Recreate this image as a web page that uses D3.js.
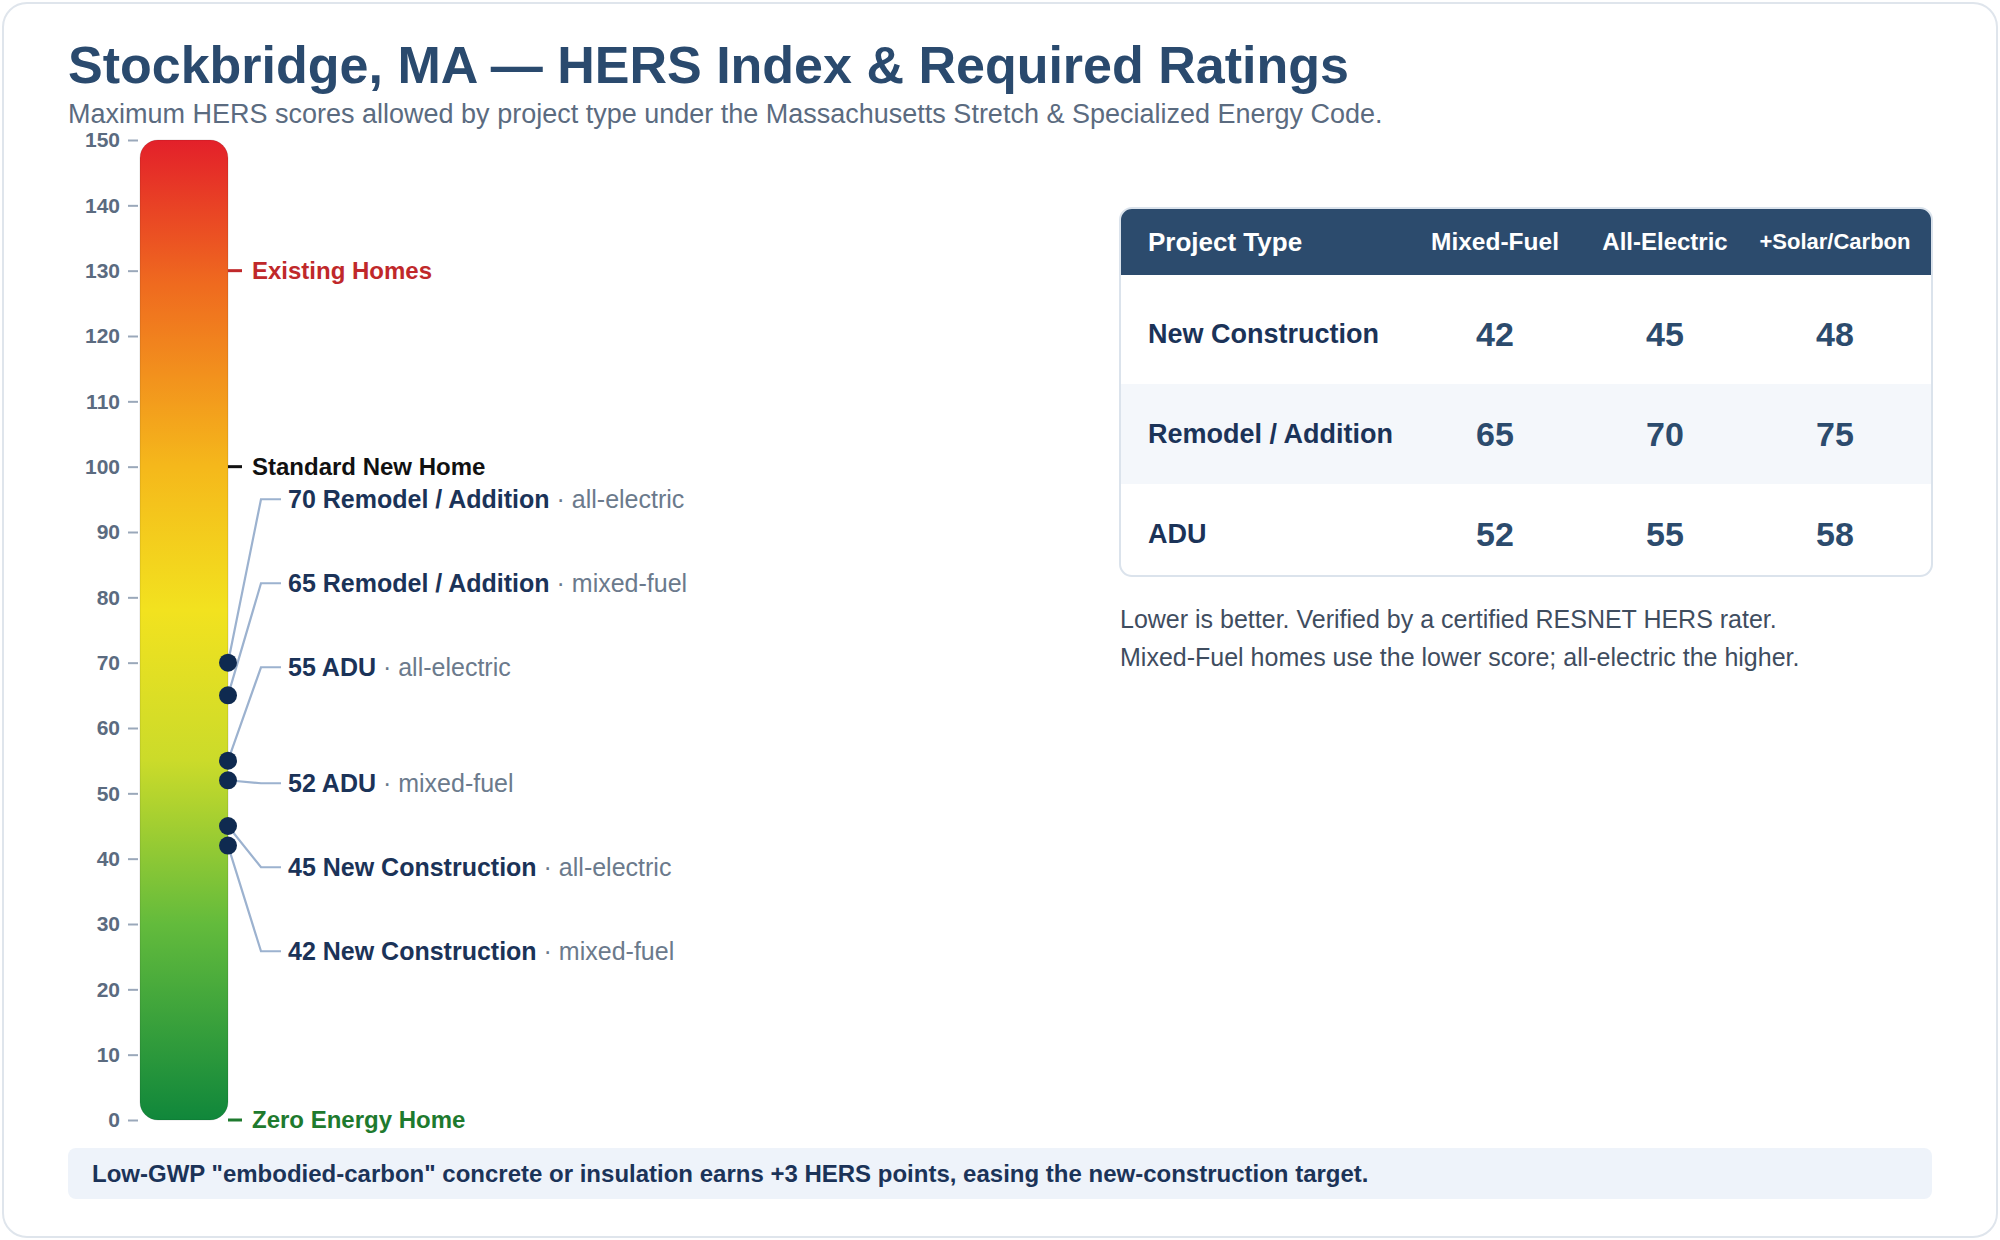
<!DOCTYPE html>
<html>
<head>
<meta charset="utf-8">
<script src="https://cdn.jsdelivr.net/npm/d3@7"></script>
<style>
  body { margin: 0; background: #fff; }
  svg { display: block; font-family: "Liberation Sans", Arial, Helvetica, sans-serif; }
</style>
</head>
<body>
<div class="chart"></div>
<script>
// ---- data ----
const projectTypes = ["New Construction", "Remodel / Addition", "ADU"];
const fuelColumns = ["Mixed-Fuel", "All-Electric", "+Solar/Carbon"];
const mixedFuel   = [42, 65, 52];
const allElectric = [45, 70, 55];
const solarCarbon = [48, 75, 58];

const benchmarkLabels = ["Existing Homes", "Standard New Home", "Zero Energy Home"];
const benchmarkValues = [130, 100, 0];

const axisTicks = [0, 10, 20, 30, 40, 50, 60, 70, 80, 90, 100, 110, 120, 130, 140, 150];

const notes = [
  "Lower is better. Verified by a certified RESNET HERS rater.",
  "Mixed-Fuel homes use the lower score; all-electric the higher."
];
const bannerText = 'Low-GWP "embodied-carbon" concrete or insulation earns +3 HERS points, easing the new-construction target.';

// ---- styles ----
const navy = "#1b3358", slate = "#2c4b6d", gray = "#5b6b80";
const benchmarkColors = ["#c0282a", "#111111", "#1e7a2e"];
const headerSizes = [24.5, 24, 22];

const W = 2000, H = 1240;

const svg = d3.select(".chart").append("svg")
    .attr("width", W)
    .attr("height", H)

// card
svg.append("rect")
    .attr("x", 3).attr("y", 3)
    .attr("width", W - 6).attr("height", H - 6)
    .attr("rx", 24)
    .attr("fill", "#fff")
    .attr("stroke", "#dfe5ec")
    .attr("stroke-width", 2)

svg.append("text")
    .attr("x", 68).attr("y", 83)
    .attr("font-size", 52).attr("font-weight", 700)
    .attr("fill", "#2a4a6e")
    .text("Stockbridge, MA \u2014 HERS Index & Required Ratings")

svg.append("text")
    .attr("x", 68).attr("y", 123)
    .attr("font-size", 27)
    .attr("fill", gray)
    .text("Maximum HERS scores allowed by project type under the Massachusetts Stretch & Specialized Energy Code.")

// ---- thermometer ----
const yScale = d3.scaleLinear().domain([0, 150]).range([1120, 140]);
const barX = 140, barW = 88;

const defs = svg.append("defs");
const grad = defs.append("linearGradient")
    .attr("id", "hers")
    .attr("gradientUnits", "userSpaceOnUse")
    .attr("x1", 0).attr("x2", 0)
    .attr("y1", yScale(150)).attr("y2", yScale(0));
const stops = [[150, "#e3202a"], [128, "#ef6a1f"], [100, "#f5b81b"], [78, "#f2e21f"],
               [55, "#cbdb2a"], [30, "#63bb3c"], [0, "#10873b"]];
grad.selectAll("stop").data(stops).enter().append("stop")
    .attr("offset", d => (yScale(d[0]) - yScale(150)) / (yScale(0) - yScale(150)))
    .attr("stop-color", d => d[1]);

svg.append("rect")
    .attr("x", barX).attr("y", yScale(150))
    .attr("width", barW).attr("height", yScale(0) - yScale(150))
    .attr("rx", 18)
    .attr("fill", "url(#hers)")
    .attr("stroke", "rgba(0,0,0,0.12)")
    .attr("stroke-width", 1)

const yAxis = d3.axisLeft(yScale)
    .tickValues(axisTicks)
    .tickSize(10)
    .tickPadding(8);

svg.append("g")
    .attr("class", "axis y-axis")
    .attr("transform", "translate(138,0)")
    .call(yAxis)
    .call(g => g.select(".domain").remove())
    .call(g => g.selectAll(".tick line").attr("stroke", "#9aa8ba").attr("stroke-width", 2))
    .call(g => g.selectAll(".tick text")
        .attr("fill", gray)
        .attr("font-size", 21)
        .attr("font-weight", 700)
        .attr("font-family", "Liberation Sans, Arial, sans-serif"))

// benchmark markers
const bench = svg.append("g").selectAll("g")
    .data(benchmarkLabels.map((l, i) => ({label: l, value: benchmarkValues[i], color: benchmarkColors[i]})))
    .enter().append("g");
bench.append("line")
    .attr("x1", barX + barW).attr("x2", barX + barW + 14)
    .attr("y1", d => yScale(d.value)).attr("y2", d => yScale(d.value))
    .attr("stroke", d => d.color)
    .attr("stroke-width", 3)
bench.append("text")
    .attr("x", barX + barW + 24)
    .attr("y", d => yScale(d.value))
    .attr("dy", "0.35em")
    .attr("font-size", 24).attr("font-weight", 700)
    .attr("fill", d => d.color)
    .text(d => d.label)

// requirement dots (mixed-fuel and all-electric per project type)
let points = [];
projectTypes.forEach((p, i) => {
    points.push({type: p, value: mixedFuel[i], fuel: "mixed-fuel"});
    points.push({type: p, value: allElectric[i], fuel: "all-electric"});
});
points.sort((a, b) => b.value - a.value);

// label layout: lower half stacks down from its first dot, upper half stacks up above it
const gap = 84, groupGap = 116;
const half = Math.ceil(points.length / 2);
const anchor = yScale(points[half].value) + 3;
points.forEach((d, i) => {
    d.y = yScale(d.value);
    d.ly = i >= half ? anchor + (i - half) * gap : anchor - groupGap - (half - 1 - i) * gap;
});

const dotX = barX + barW;
svg.append("g").selectAll("path")
    .data(points).enter().append("path")
    .attr("d", d => `M${dotX},${d.y}L${dotX + 33},${d.ly}L${dotX + 53},${d.ly}`)
    .attr("fill", "none")
    .attr("stroke", "#9cb2cf")
    .attr("stroke-width", 2.2)

svg.append("g").selectAll("circle")
    .data(points).enter().append("circle")
    .attr("cx", dotX)
    .attr("cy", d => d.y)
    .attr("r", 9)
    .attr("fill", "#0f2a50")

const lab = svg.append("g").selectAll("text")
    .data(points).enter().append("text")
    .attr("x", dotX + 60)
    .attr("y", d => d.ly)
    .attr("dy", "0.35em")
    .attr("font-size", 25)
lab.append("tspan")
    .attr("font-weight", 700).attr("fill", navy)
    .text(d => d.value + " " + d.type)
lab.append("tspan")
    .attr("fill", "#6b7a8c")
    .text(d => " \u00b7 " + d.fuel)

// ---- table ----
const tX = 1120, tW = 812, tTop = 208, headH = 67, tBottom = 576;
const colScale = d3.scaleBand().domain(fuelColumns).range([1410, 1920]);
const rowScale = d3.scaleBand().domain(projectTypes).range([284, 584]);
const rowValues = projectTypes.map((p, i) => [mixedFuel[i], allElectric[i], solarCarbon[i]]);

defs.append("clipPath").attr("id", "tclip")
    .append("rect")
    .attr("x", tX).attr("y", tTop).attr("width", tW).attr("height", tBottom - tTop).attr("rx", 12)

const table = svg.append("g");
const inner = table.append("g").attr("clip-path", "url(#tclip)");
inner.append("rect")
    .attr("x", tX).attr("y", tTop).attr("width", tW).attr("height", tBottom - tTop)
    .attr("fill", "#fff")
inner.selectAll(".band")
    .data(projectTypes.filter((p, i) => i % 2 === 1))
    .enter().append("rect")
    .attr("x", tX).attr("width", tW)
    .attr("y", d => rowScale(d)).attr("height", rowScale.bandwidth())
    .attr("fill", "#f4f7fb")
inner.append("rect")
    .attr("x", tX).attr("y", tTop).attr("width", tW).attr("height", headH)
    .attr("fill", slate)
table.append("rect")
    .attr("x", tX).attr("y", tTop).attr("width", tW).attr("height", tBottom - tTop)
    .attr("rx", 12)
    .attr("fill", "none")
    .attr("stroke", "#dbe3ec")
    .attr("stroke-width", 2)

const headY = tTop + headH / 2;
table.append("text")
    .attr("x", tX + 28).attr("y", headY).attr("dy", "0.35em")
    .attr("font-size", 26).attr("font-weight", 700).attr("fill", "#fff")
    .text("Project Type")
table.selectAll(".colhead")
    .data(fuelColumns).enter().append("text")
    .attr("x", d => colScale(d) + colScale.bandwidth() / 2)
    .attr("y", headY).attr("dy", "0.35em")
    .attr("text-anchor", "middle")
    .attr("font-size", (d, i) => headerSizes[i]).attr("font-weight", 700).attr("fill", "#fff")
    .text(d => d)

const rows = table.selectAll(".row")
    .data(projectTypes).enter().append("g")
    .attr("transform", d => `translate(0,${rowScale(d) + rowScale.bandwidth() / 2})`);
rows.append("text")
    .attr("x", tX + 28).attr("dy", "0.35em")
    .attr("font-size", 27).attr("font-weight", 700).attr("fill", navy)
    .text(d => d)
rows.selectAll(".val")
    .data((d, i) => rowValues[i].map((v, j) => ({v: v, col: fuelColumns[j]})))
    .enter().append("text")
    .attr("x", d => colScale(d.col) + colScale.bandwidth() / 2)
    .attr("dy", "0.35em")
    .attr("text-anchor", "middle")
    .attr("font-size", 34).attr("font-weight", 700).attr("fill", slate)
    .text(d => d.v)

svg.append("g").selectAll("text")
    .data(notes).enter().append("text")
    .attr("x", 1120)
    .attr("y", (d, i) => 628 + i * 38)
    .attr("font-size", 25)
    .attr("fill", "#3f4d5f")
    .text(d => d)

// ---- banner ----
svg.append("rect")
    .attr("x", 68).attr("y", 1148)
    .attr("width", 1864).attr("height", 51)
    .attr("rx", 8)
    .attr("fill", "#eef3fa")
svg.append("text")
    .attr("x", 92).attr("y", 1174).attr("dy", "0.35em")
    .attr("font-size", 24).attr("font-weight", 700).attr("fill", navy)
    .text(bannerText)
</script>
</body>
</html>
